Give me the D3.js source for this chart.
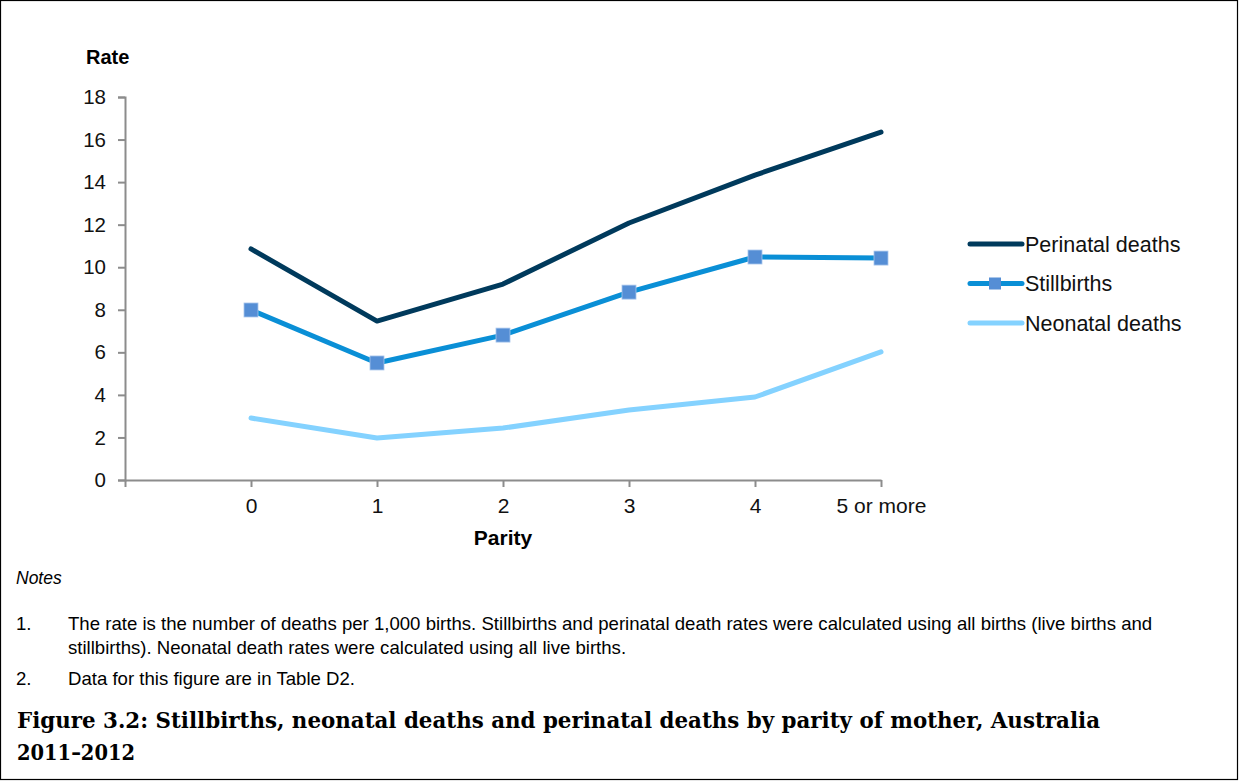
<!DOCTYPE html>
<html>
<head>
<meta charset="utf-8">
<script src="https://cdn.jsdelivr.net/npm/d3@7"></script>
<style>
  body { margin: 0; background: #fff; }
  svg { display: block; }
</style>
</head>
<body>
<div id="chart"></div>
<script>
// categories on the x axis (first slot is an empty one, like the original)
var parity = ["", "0", "1", "2", "3", "4", "5 or more"];
var perinatal = [10.86, 7.47, 9.21, 12.08, 14.33, 16.35];
var stillbirths = [7.99, 5.50, 6.81, 8.83, 10.48, 10.43];
var neonatal = [2.91, 1.97, 2.44, 3.29, 3.90, 6.02];
var yTicks = [0, 2, 4, 6, 8, 10, 12, 14, 16, 18];

var seriesNames = ["Perinatal deaths", "Stillbirths", "Neonatal deaths"];
var seriesColors = ["#003a5c", "#0a8fd6", "#84d2ff"];

var W = 1239, H = 781;
var margin = { top: 97, left: 125, right: 358, bottom: 301 };
var width = W - margin.left - margin.right,   // 756
    height = H - margin.top - margin.bottom;  // 383

var svg = d3.select("#chart").append("svg")
    .attr("width", W)
    .attr("height", H);

// outer frame
svg.append("rect")
    .attr("x", 0.5).attr("y", 0.5)
    .attr("width", W - 2).attr("height", H - 2)
    .attr("fill", "none")
    .attr("stroke", "#000")
    .attr("stroke-width", 1.2);

var chart = svg.append("g")
    .attr("transform", "translate(" + margin.left + "," + margin.top + ")");

// set the ranges
var x = d3.scalePoint()
    .domain(parity)
    .range([0, width]);
var y = d3.scaleLinear()
    .domain([0, 18])
    .range([height, 0]);

var font = "'Liberation Sans', Arial, sans-serif";

// y axis
var yAxis = chart.append("g")
    .call(d3.axisLeft(y).tickValues(yTicks).tickSize(7).tickPadding(12));
yAxis.select(".domain").attr("stroke", "#8c8c8c").attr("stroke-width", 2);
yAxis.selectAll(".tick line").attr("stroke", "#8c8c8c").attr("stroke-width", 2);
yAxis.selectAll("text")
    .attr("fill", "#111")
    .style("font-size", "20.5px")
    .style("font-family", font);

// x axis
var xAxis = chart.append("g")
    .attr("transform", "translate(0," + height + ")")
    .call(d3.axisBottom(x).tickSize(7).tickSizeOuter(0).tickPadding(11));
xAxis.select(".domain").attr("stroke", "#8c8c8c").attr("stroke-width", 2);
xAxis.selectAll(".tick line").attr("stroke", "#8c8c8c").attr("stroke-width", 2);
xAxis.selectAll("text")
    .attr("fill", "#111")
    .style("font-size", "21px")
    .style("font-family", font);

// lines
var line = d3.line()
    .x(function (d, i) { return x(parity[i + 1]); })
    .y(function (d) { return y(d); });

[perinatal, stillbirths, neonatal].forEach(function (data, k) {
    chart.append("path")
        .datum(data)
        .attr("fill", "none")
        .attr("stroke", seriesColors[k])
        .attr("stroke-width", 5)
        .attr("stroke-linejoin", "round")
        .attr("stroke-linecap", "round")
        .attr("d", line);
});

// square markers on stillbirths
chart.selectAll(".mark")
    .data(stillbirths)
    .enter().append("rect")
    .attr("class", "mark")
    .attr("x", function (d, i) { return x(parity[i + 1]) - 7; })
    .attr("y", function (d) { return y(d) - 7; })
    .attr("width", 14)
    .attr("height", 14)
    .attr("fill", "#558ed5")
    .attr("stroke", "#a9c6ec")
    .attr("stroke-width", 0.8);

// axis titles
svg.append("text")
    .attr("x", 86).attr("y", 64)
    .style("font-family", font)
    .style("font-size", "20px")
    .style("font-weight", "700")
    .text("Rate");

svg.append("text")
    .attr("x", margin.left + x("2")).attr("y", 545)
    .attr("text-anchor", "middle")
    .style("font-family", font)
    .style("font-size", "21px")
    .style("font-weight", "700")
    .text("Parity");

// legend
var legend = svg.append("g").attr("transform", "translate(968,244)");
seriesNames.forEach(function (name, k) {
    var g = legend.append("g").attr("transform", "translate(0," + (k * 39.5) + ")");
    g.append("line")
        .attr("x1", 2).attr("x2", 54)
        .attr("stroke", seriesColors[k])
        .attr("stroke-width", 5)
        .attr("stroke-linecap", "round");
    if (k === 1) {
        g.append("rect")
            .attr("x", 21).attr("y", -6)
            .attr("width", 12).attr("height", 12)
            .attr("fill", "#558ed5");
    }
    g.append("text")
        .attr("x", 57).attr("y", 7.5)
        .style("font-family", font)
        .style("font-size", "21.5px")
        .attr("fill", "#111")
        .text(name);
});

// notes
svg.append("text")
    .attr("x", 16).attr("y", 584)
    .style("font-family", font)
    .style("font-size", "17.5px")
    .style("font-style", "italic")
    .text("Notes");

var notes = [
    { n: "1.", y: 630, t: "The rate is the number of deaths per 1,000 births. Stillbirths and perinatal death rates were calculated using all births (live births and" },
    { n: "", y: 654, t: "stillbirths). Neonatal death rates were calculated using all live births." },
    { n: "2.", y: 685, t: "Data for this figure are in Table D2." }
];
notes.forEach(function (d) {
    svg.append("text")
        .attr("x", 16).attr("y", d.y)
        .style("font-family", font).style("font-size", "18.6px")
        .text(d.n);
    svg.append("text")
        .attr("x", 68).attr("y", d.y)
        .style("font-family", font).style("font-size", "18.6px")
        .text(d.t);
});

// figure title
var titleFont = "'DejaVu Serif', 'Liberation Serif', serif";
svg.append("text")
    .attr("x", 17).attr("y", 728)
    .attr("textLength", 1083)
    .attr("lengthAdjust", "spacingAndGlyphs")
    .style("font-family", titleFont)
    .style("font-size", "23px")
    .style("font-weight", "700")
    .text("Figure 3.2: Stillbirths, neonatal deaths and perinatal deaths by parity of mother, Australia");
svg.append("text")
    .attr("x", 17).attr("y", 760)
    .attr("textLength", 118)
    .attr("lengthAdjust", "spacingAndGlyphs")
    .style("font-family", titleFont)
    .style("font-size", "23px")
    .style("font-weight", "700")
    .text("2011–2012");
</script>
</body>
</html>
